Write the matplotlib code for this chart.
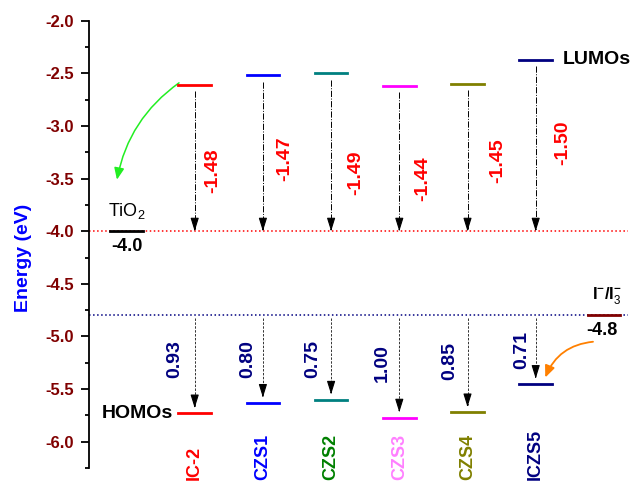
import matplotlib
matplotlib.use("Agg")
import matplotlib.pyplot as plt
from matplotlib.patches import FancyArrowPatch
from matplotlib.ticker import MultipleLocator

plt.rcParams['font.family'] = ['Liberation Sans', 'DejaVu Sans']
plt.rcParams['mathtext.fontset'] = 'custom'
plt.rcParams['mathtext.rm'] = 'Liberation Sans'
plt.rcParams['mathtext.bf'] = 'Liberation Sans:bold'
plt.rcParams['axes.unicode_minus'] = False

# dyes and their frontier orbital energies (eV)
dyes = ['IC-2', 'CZS1', 'CZS2', 'CZS3', 'CZS4', 'ICZS5']
lumo = [-2.61, -2.52, -2.50, -2.62, -2.60, -2.37]
homo = [-5.73, -5.63, -5.60, -5.77, -5.72, -5.45]
lumo_gap = [-1.48, -1.47, -1.49, -1.44, -1.45, -1.50]
homo_gap = [0.93, 0.80, 0.75, 1.00, 0.85, 0.71]
tio2 = -4.0
redox = -4.8

# colours
level_col = ['#ff0000', '#0000ff', '#008080', '#ff00ff', '#808000', '#000080']
name_col = ['#ff0000', '#0000ff', '#008000', '#ff80ff', '#808000', '#000080']

# label placement (layout only)
lumo_lab_dx = [0.26, 0.32, 0.36, 0.34, 0.44, 0.39]
lumo_lab_y = [-3.42, -3.31, -3.44, -3.50, -3.33, -3.16]
homo_lab_dx = [-0.29, -0.22, -0.27, -0.25, -0.26, -0.20]
homo_lab_y = [-5.21, -5.21, -5.21, -5.255, -5.23, -5.13]

fig = plt.figure(figsize=(6.32, 4.83), dpi=100)
ax = fig.add_axes([0.1408, 0.031, 0.859, 0.926])
ax.set_xlim(0.45, 8.41)
ax.set_ylim(-6.25, -2.0)

for s in ['top', 'right', 'bottom']:
    ax.spines[s].set_visible(False)
ax.spines['left'].set_linewidth(1.3)
ax.set_xticks([])
ax.yaxis.set_major_locator(MultipleLocator(0.5))
ax.yaxis.set_minor_locator(MultipleLocator(0.25))
ax.yaxis.set_major_formatter(plt.FuncFormatter(lambda v, p: f'{v:.1f}'))
ax.tick_params(axis='y', which='major', length=6, width=1.3, pad=5,
               labelsize=12, labelcolor='#800000')
ax.tick_params(axis='y', which='minor', length=3, width=1.3)
for lab in ax.get_yticklabels():
    lab.set_fontweight('bold')

ax.set_ylabel('Energy (eV)', color='#0000ff', fontsize=14, fontweight='bold')
ax.yaxis.set_label_coords(-0.105, 0.47)

# reference lines
ax.axhline(tio2, xmin=0, xmax=0.993, color='#ff0000', ls=':', lw=1.1)
ax.axhline(redox, xmin=0, xmax=0.993, color='#000080', ls=':', lw=1.1)

hw = 0.24
# TiO2 and I-/I3- levels
ax.plot([1 - hw, 1 + hw], [tio2, tio2], color='black', lw=2)
ax.plot([8 - hw, 8 + hw], [redox, redox], color='#800000', lw=2)
ax.text(1, -3.9, 'TiO$_2$', ha='center', va='bottom', fontsize=13)
ax.text(1, -4.06, f'{tio2:.1f}', ha='center', va='top', fontsize=13, fontweight='bold')
ax.text(8.04, -4.71, r'I$^{\mathbf{-}}$/I$_3^{\mathbf{-}}$', ha='center', va='bottom',
        fontsize=12, fontweight='bold')
ax.text(7.97, -4.86, f'{redox:.1f}', ha='center', va='top', fontsize=13, fontweight='bold')


def head(x, y, dy):
    ax.annotate('', xy=(x, y), xytext=(x, y + dy),
                arrowprops=dict(arrowstyle='-|>,head_length=0.8,head_width=0.25',
                                color='black', lw=0.8, shrinkA=0, shrinkB=0))


for i, name in enumerate(dyes):
    x = i + 2
    ax.plot([x - hw, x + hw], [lumo[i], lumo[i]], color=level_col[i], lw=2)
    ax.plot([x - hw, x + hw], [homo[i], homo[i]], color=level_col[i], lw=2)

    # LUMO -> TiO2
    ax.plot([x, x], [lumo[i] - 0.06, tio2 + 0.02], color='black', ls='-.', lw=0.7)
    head(x, tio2, 0.02)
    # I-/I3- -> HOMO
    ax.plot([x, x], [redox - 0.02, homo[i] + 0.07], color='#333333', ls='--', lw=0.7,
            dashes=(2.5, 1.5))
    head(x, homo[i] + 0.05, 0.02)

    ax.text(x + lumo_lab_dx[i], lumo_lab_y[i], f'{lumo_gap[i]:.2f}', rotation=90,
            ha='center', va='center', color='#ff0000', fontsize=14, fontweight='bold')
    ax.text(x + homo_lab_dx[i], homo_lab_y[i], f'{homo_gap[i]:.2f}', rotation=90,
            ha='center', va='center', color='#000080', fontsize=14, fontweight='bold')
    ax.text(x, -6.36, name, rotation=90, ha='center', va='bottom', color=name_col[i],
            fontsize=13, fontweight='bold', clip_on=False)

ax.text(7.39, lumo[5], 'LUMOs', ha='left', va='center', fontsize=14, fontweight='bold')
ax.text(1.68, homo[0], 'HOMOs', ha='right', va='center', fontsize=14, fontweight='bold')

# electron injection / regeneration arrows
green = FancyArrowPatch((2 - 0.23, lumo[0] + 0.02), (1 - 0.14, tio2 + 0.49),
                        connectionstyle='arc3,rad=0.2',
                        arrowstyle='-|>,head_length=7,head_width=3',
                        color='#22ee22', lw=1.1, shrinkA=0, shrinkB=0)
ax.add_patch(green)
orange = FancyArrowPatch((8 - 0.16, redox - 0.25), (7 + 0.14, homo[5] + 0.06),
                         connectionstyle='arc3,rad=0.3',
                         arrowstyle='-|>,head_length=7,head_width=3',
                         color='#ff8000', lw=1.3, shrinkA=0, shrinkB=0)
ax.add_patch(orange)

fig.savefig('out.png', dpi=100)
